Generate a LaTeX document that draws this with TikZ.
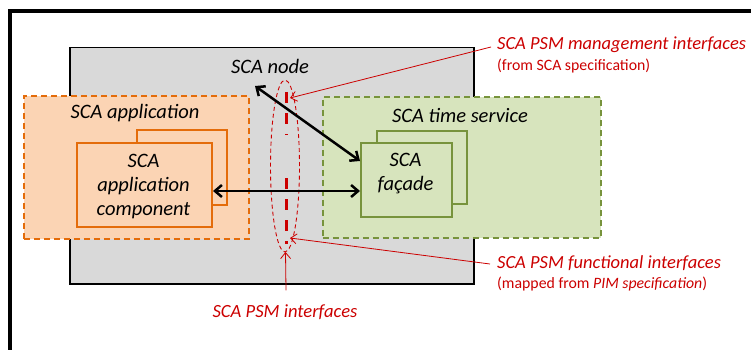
\documentclass[tikz,border=0pt]{standalone}
\usepackage{fontspec}
\setmainfont{Carlito}
\usetikzlibrary{arrows.meta,shapes.geometric,calc}
\definecolor{nodegray}{HTML}{D9D9D9}
\definecolor{appfill}{HTML}{FBD4B4}
\definecolor{appline}{HTML}{E46C0A}
\definecolor{tsfill}{HTML}{D7E4BD}
\definecolor{tsline}{HTML}{77933C}
\definecolor{psmred}{HTML}{CC0000}
\tikzset{
  graybox/.style={draw=black, line width=1.5pt, fill=nodegray, anchor=north west, inner sep=0},
  appbox/.style={draw=appline, line width=1.8pt, dash pattern=on 6pt off 4pt, fill=appfill, anchor=north west, inner sep=0},
  compbox/.style={draw=appline, line width=2pt, fill=appfill, anchor=north west, inner sep=0},
  tsbox/.style={draw=tsline, line width=1.8pt, dash pattern=on 6pt off 4pt, fill=tsfill, anchor=north west, inner sep=0},
  facbox/.style={draw=tsline, line width=2pt, fill=tsfill, anchor=north west, inner sep=0},
  lbl/.style={font=\fontsize{20.5}{24}\selectfont\itshape, align=center, inner sep=0},
  redlbl/.style={font=\fontsize{18.5}{22}\selectfont\itshape, text=psmred, anchor=west, inner sep=0},
  redsub/.style={font=\fontsize{15.8}{19}\selectfont, text=psmred, anchor=west, inner sep=0},
  redlblc/.style={font=\fontsize{18.6}{22}\selectfont\itshape, text=psmred, inner sep=0},
  conn/.style={line width=2.5pt, {Straight Barb[length=7pt,width=12pt]}-{Straight Barb[length=7pt,width=12pt]}},
  callout/.style={draw=psmred, line width=0.8pt, -{Straight Barb[length=6pt,width=10pt]}},
  ifline/.style={draw=psmred, line width=3pt, dash pattern=on 11pt off 10pt},
}
\begin{document}
\begin{tikzpicture}[x=1pt,y=-1pt]
\useasboundingbox (0,0) rectangle (751,350);
\clip (0,0) rectangle (751,350);
\fill[white] (0,0) rectangle (751,350);
\draw[line width=4pt] (10,11.5) rectangle (770,370);

% SCA node
\node[graybox, minimum width=404pt, minimum height=236pt] (scanode) at (69,47) {};
\node[lbl] (scanodelbl) at (270,66) {SCA node};

% SCA application
\node[appbox, minimum width=225pt, minimum height=143pt] (app) at (23,95) {};
\node[lbl] (applbl) at (135,113) {SCA application};
\node[compbox, minimum width=90pt, minimum height=75pt] (compback) at (136,129) {};
\node[compbox, minimum width=135pt, minimum height=84pt] (comp) at (76,142) {};
\node[lbl] (complbl) at (143.5,186) {SCA\\application\\component};

% SCA time service
\node[tsbox, minimum width=278pt, minimum height=141pt] (ts) at (322,96) {};
\node[lbl] (tslbl) at (460,115) {SCA time service};
\node[facbox, minimum width=90pt, minimum height=73pt] (facback) at (376,130) {};
\node[facbox, minimum width=91pt, minimum height=74pt] (fac) at (360,142) {};
\node[lbl] (faclbl) at (405.5,174) {SCA\\façade};

% interfaces
\draw[ifline] (286,92) -- (286,134.5);
\draw[ifline] (286,178) -- (286,243.5);
\node[ellipse, draw=psmred, line width=0.9pt, dash pattern=on 4pt off 3pt, minimum width=29pt, minimum height=172pt, inner sep=0] (psm) at (285,166) {};

% connectors
\coordinate (nodeport) at (255,86);
\coordinate (facmgmt) at ($(fac.north west)+(0,19)$);
\coordinate (facfun) at ($(fac.north west)+(0,49)$);
\coordinate (compfun) at ($(comp.north east)+(0,49)$);
\draw[conn] (nodeport) -- (facmgmt);
\draw[conn] (compfun) -- (facfun);

% red labels
\node[redlbl] (mgmt) at (497,45) {SCA PSM management interfaces};
\node[redsub] (mgmtsub) at (497,66) {(from SCA specification)};
\node[redlbl] (func) at (497,263) {SCA PSM functional interfaces};
\node[redsub] (funcsub) at (497,284) {(mapped from \textit{PIM specification})};
\node[redlblc] (psmlbl) at (285,312) {SCA PSM interfaces};

\coordinate (mgmttip) at (290,98);
\coordinate (functip) at (290,238);
\coordinate (psmtip) at (285.5,252);
\draw[callout] ($(mgmt.west)+(-6,2)$) -- (mgmttip);
\draw[callout] ($(func.west)+(-7,1)$) -- (functip);
\draw[callout] ($(psmlbl.north)+(1,-14)$) -- (psmtip);
\end{tikzpicture}
\end{document}
